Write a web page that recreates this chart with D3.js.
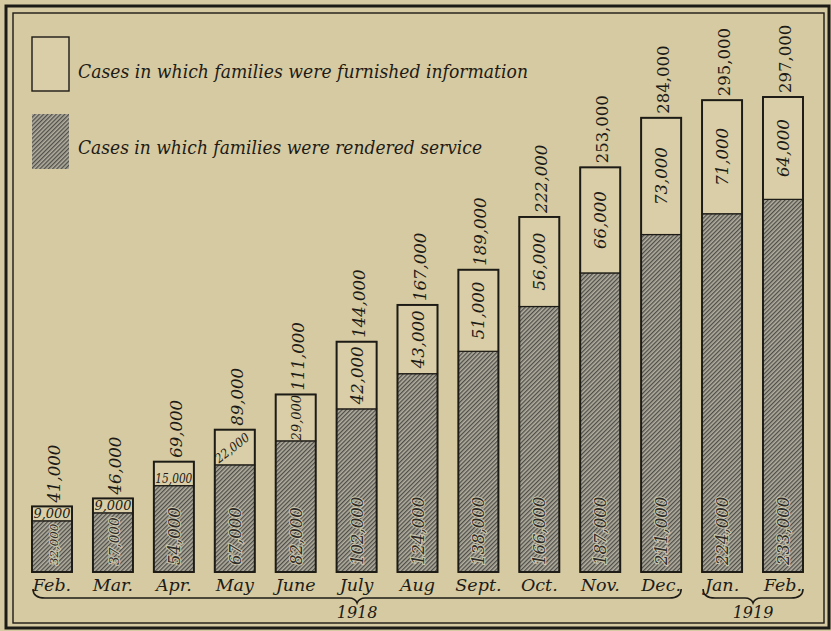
<!DOCTYPE html>
<html>
<head>
<meta charset="utf-8">
<script src="https://cdn.jsdelivr.net/npm/d3@7"></script>
<style>
  html, body { margin: 0; padding: 0; background: #d6caa2; }
  svg { display: block; }
</style>
</head>
<body>
<svg id="chart" width="831" height="631"></svg>
<script>
// ---- data ----
const months = ["Feb.", "Mar.", "Apr.", "May", "June", "July", "Aug", "Sept.", "Oct.", "Nov.", "Dec.", "Jan.", "Feb."];
const service = [32000, 37000, 54000, 67000, 82000, 102000, 124000, 138000, 166000, 187000, 211000, 224000, 233000];
const information = [9000, 9000, 15000, 22000, 29000, 42000, 43000, 51000, 56000, 66000, 73000, 71000, 64000];
const totals = [41000, 46000, 69000, 89000, 111000, 144000, 167000, 189000, 222000, 253000, 284000, 295000, 297000];
const years = ["1918", "1919"];
const yearSpans = [[0, 10], [11, 12]];
const legendLabels = ["Cases in which families were furnished information", "Cases in which families were rendered service"];

// ---- setup ----
const svg = d3.select("#chart");
const W = 831, H = 631;
const bg = "#d6caa2", ink = "#1d1b16";
const serif = "'DejaVu Serif', 'Liberation Serif', serif";

const defs = svg.append("defs");
const pat = defs.append("pattern")
  .attr("id", "hatch").attr("patternUnits", "userSpaceOnUse")
  .attr("width", 3).attr("height", 3)
  .attr("patternTransform", "rotate(45)");
pat.append("rect").attr("width", 3).attr("height", 3).attr("fill", "#b2afa0");
pat.append("rect").attr("x", 0).attr("width", 1.3).attr("height", 3).attr("fill", "#4e4d48");

svg.append("rect").attr("width", W).attr("height", H).attr("fill", bg);

// frame
svg.append("rect").attr("x", 6).attr("y", 6).attr("width", 823).attr("height", 622)
  .attr("fill", "none").attr("stroke", ink).attr("stroke-width", 3);
svg.append("rect").attr("x", 13).attr("y", 13).attr("width", 811).attr("height", 610)
  .attr("fill", "none").attr("stroke", ink).attr("stroke-width", 1.4);

const idx = d3.range(months.length);
const x = d3.scaleBand().domain(idx).range([32, 803]).paddingInner(0.343).paddingOuter(0);
const y = d3.scaleLinear().domain([0, d3.max(totals)]).range([572, 97]);
const bw = x.bandwidth();

// ---- bars ----
const g = svg.append("g");
const bars = g.selectAll("g.bar").data(idx).join("g").attr("class", "bar");

bars.append("rect")
  .attr("x", i => x(i)).attr("width", bw)
  .attr("y", i => y(service[i])).attr("height", i => y(0) - y(service[i]))
  .attr("fill", "url(#hatch)").attr("stroke", ink).attr("stroke-width", 1.2);

bars.append("rect")
  .attr("x", i => x(i)).attr("width", bw)
  .attr("y", i => y(service[i] + information[i])).attr("height", i => y(service[i]) - y(service[i] + information[i]))
  .attr("fill", "#d9cea7").attr("stroke", ink).attr("stroke-width", 1.2);

bars.append("rect")
  .attr("x", i => x(i)).attr("width", bw)
  .attr("y", i => y(totals[i])).attr("height", i => y(0) - y(totals[i]))
  .attr("fill", "none").attr("stroke", ink).attr("stroke-width", 1.9);

const fmt = d3.format(",");

// totals above bars
bars.append("text")
  .attr("transform", i => `translate(${x(i) + bw / 2 + 8},${y(totals[i]) - 4}) rotate(-90)`)
  .attr("font-family", serif).attr("font-size", 16.5)
  .attr("font-style", i => i < 9 ? "italic" : "normal")
  .attr("fill", ink)
  .text(i => fmt(totals[i]));

// information labels
bars.each(function (i) {
  const sel = d3.select(this);
  const top = y(totals[i]), bot = y(service[i]);
  const h = bot - top;
  const cx = x(i) + bw / 2, cy = (top + bot) / 2;
  const t = sel.append("text").attr("font-family", serif).attr("font-style", "italic").attr("fill", ink)
    .text(fmt(information[i]));
  if (h < 26) {
    t.attr("x", cx).attr("y", bot - 2.5).attr("text-anchor", "middle")
      .attr("font-size", 13).attr("textLength", bw - 3).attr("lengthAdjust", "spacingAndGlyphs");
  } else if (h < 40) {
    t.attr("transform", `translate(${cx},${cy + 4}) rotate(-38)`).attr("text-anchor", "middle")
      .attr("font-size", 12.5).attr("textLength", 40).attr("lengthAdjust", "spacingAndGlyphs");
  } else if (h < 55) {
    t.attr("transform", `translate(${cx + 5},${cy}) rotate(-90)`).attr("text-anchor", "middle")
      .attr("font-size", 13);
  } else {
    t.attr("transform", `translate(${cx + 6},${cy}) rotate(-90)`).attr("text-anchor", "middle")
      .attr("font-size", 16.5);
  }
});

// service labels
bars.append("text")
  .attr("transform", i => `translate(${x(i) + bw / 2 + 6},${y(0) - 7}) rotate(-90)`)
  .attr("font-family", serif).attr("font-style", "italic")
  .attr("font-size", i => Math.min(16.5, (y(0) - y(service[i])) * 0.23))
  .attr("fill", "#25231e").attr("stroke", "#d2ccb2").attr("stroke-width", 2.2)
  .attr("paint-order", "stroke").attr("opacity", 0.9)
  .text(i => fmt(service[i]));

// ---- month labels ----
svg.append("g").selectAll("text").data(idx).join("text")
  .attr("x", i => x(i) + bw / 2).attr("y", 591)
  .attr("text-anchor", "middle")
  .attr("font-family", serif).attr("font-style", "italic").attr("font-size", 17.5)
  .attr("fill", ink)
  .text(i => months[i]);

// ---- braces ----
function bracePath(x0, x1, yy) {
  const m = (x0 + x1) / 2;
  return `M${x0},${yy - 9} Q${x0},${yy} ${x0 + 12},${yy}` +
    ` L${m - 8},${yy} Q${m - 2},${yy} ${m},${yy + 5}` +
    ` Q${m + 2},${yy} ${m + 8},${yy}` +
    ` L${x1 - 12},${yy} Q${x1},${yy} ${x1},${yy - 9}`;
}
yearSpans.forEach((s, k) => {
  const x0 = x(s[0]) + 1, x1 = x(s[1]) + bw;
  svg.append("path").attr("d", bracePath(x0, x1, 598))
    .attr("fill", "none").attr("stroke", ink).attr("stroke-width", 1.6);
  svg.append("text").attr("x", (x0 + x1) / 2).attr("y", 618).attr("text-anchor", "middle")
    .attr("font-family", serif).attr("font-style", "italic").attr("font-size", 16)
    .attr("fill", ink).text(years[k]);
});

// ---- legend ----
const leg = svg.append("g");
leg.append("rect").attr("x", 32).attr("y", 37).attr("width", 37).attr("height", 54)
  .attr("fill", "#d9cea7").attr("stroke", ink).attr("stroke-width", 1.4);
leg.append("rect").attr("x", 32).attr("y", 114).attr("width", 37).attr("height", 55)
  .attr("fill", "url(#hatch)").attr("stroke", "none");
leg.append("text").attr("x", 78).attr("y", 78)
  .attr("font-family", serif).attr("font-style", "italic").attr("font-size", 18).attr("fill", ink)
  .attr("textLength", 450).attr("lengthAdjust", "spacingAndGlyphs")
  .text(legendLabels[0]);
leg.append("text").attr("x", 78).attr("y", 154)
  .attr("font-family", serif).attr("font-style", "italic").attr("font-size", 18).attr("fill", ink)
  .attr("textLength", 404).attr("lengthAdjust", "spacingAndGlyphs")
  .text(legendLabels[1]);
</script>
</body>
</html>
